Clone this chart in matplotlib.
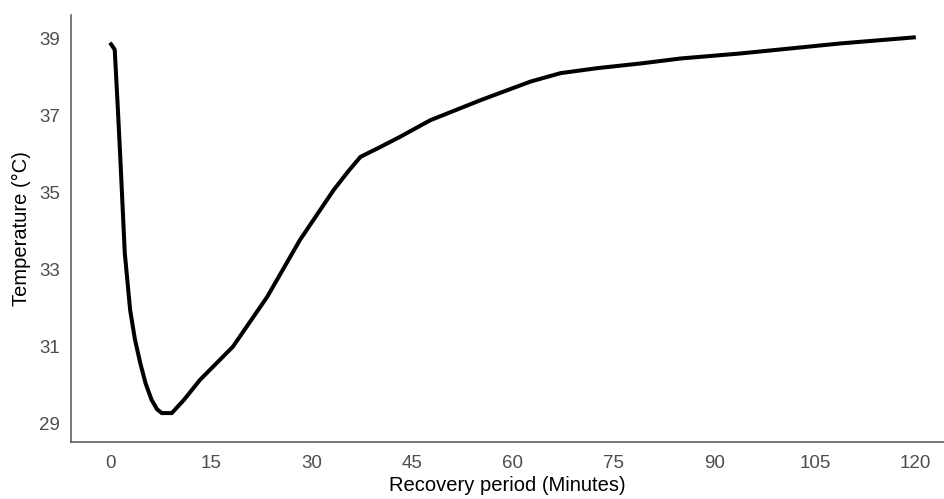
import matplotlib
matplotlib.use("Agg")
import matplotlib.pyplot as plt

minutes = [0.0, 0.7, 1.1, 1.5, 2.2, 3.0, 3.7, 4.5, 5.3, 6.2, 7.0, 7.7, 9.2,
           11.0, 13.4, 18.3, 23.4, 28.3, 33.3, 35.5, 37.3, 40.3, 43.2, 47.7,
           55.2, 62.6, 67.1, 72.6, 79.0, 85.0, 93.9, 108.8, 120.0]
temperature = [38.88, 38.70, 37.40, 36.02, 33.43, 31.95, 31.20, 30.58, 30.05,
               29.62, 29.38, 29.28, 29.28, 29.62, 30.14, 31.00, 32.29, 33.77,
               35.06, 35.55, 35.92, 36.18, 36.44, 36.87, 37.39, 37.87, 38.09,
               38.22, 38.34, 38.47, 38.60, 38.86, 39.02]
xticks = [0, 15, 30, 45, 60, 75, 90, 105, 120]
yticks = [29, 31, 33, 35, 37, 39]

plt.rcParams["font.family"] = ["Liberation Sans", "DejaVu Sans"]

fig = plt.figure(figsize=(9.44, 4.99), dpi=100)
ax = fig.add_axes([0.0752, 0.1142, 0.9248, 0.856])
ax.plot(minutes, temperature, color="black", lw=2.9,
        solid_capstyle="butt", solid_joinstyle="round")

ax.set_xlim(-5.81, 124.2)
ax.set_ylim(28.53, 39.6)
ax.set_xticks(xticks)
ax.set_yticks(yticks)
ax.tick_params(colors="#4d4d4d", labelsize=13.5, length=0, width=1)
ax.tick_params(axis="x", pad=9)
ax.tick_params(axis="y", pad=8)
for s in ["top", "right"]:
    ax.spines[s].set_visible(False)
for s in ["left", "bottom"]:
    ax.spines[s].set_color("#555555")
    ax.spines[s].set_linewidth(1.1)

ax.set_xlabel("Recovery period (Minutes)", fontsize=14.5, color="black", labelpad=3)
ax.set_ylabel("Temperature (°C)", fontsize=14.5, color="black", labelpad=6)

fig.savefig("out.png", dpi=100)
